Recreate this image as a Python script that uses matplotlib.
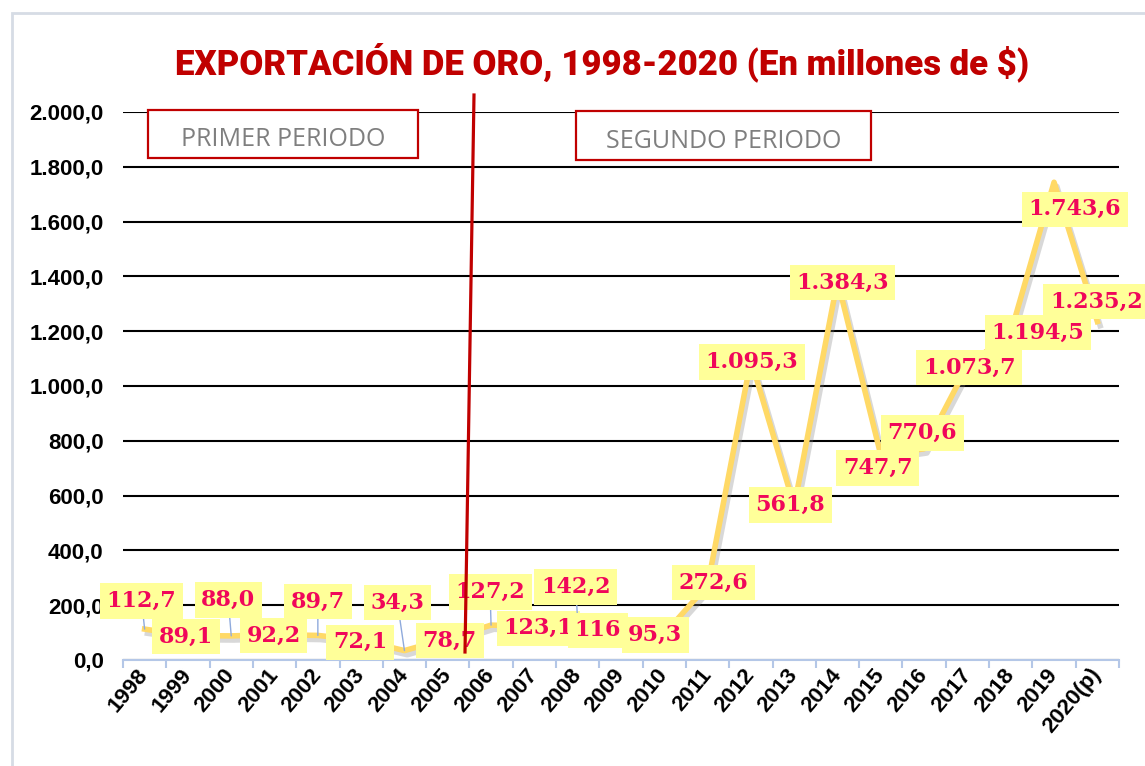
import matplotlib.pyplot as plt
import matplotlib.patheffects as pe
from matplotlib.patches import Rectangle
from matplotlib.lines import Line2D
from matplotlib.ticker import FuncFormatter, FixedLocator

# Datos: exportación de oro (millones de $)
anios = ["1998", "1999", "2000", "2001", "2002", "2003", "2004", "2005",
         "2006", "2007", "2008", "2009", "2010", "2011", "2012", "2013",
         "2014", "2015", "2016", "2017", "2018", "2019", "2020(p)"]
valores = [112.7, 89.1, 88.0, 92.2, 89.7, 72.1, 34.3, 78.7, 127.2, 123.1,
           142.2, 116.0, 95.3, 272.6, 1095.3, 561.8, 1384.3, 747.7, 770.6,
           1073.7, 1194.5, 1743.6, 1235.2]
etiquetas = ["112,7", "89,1", "88,0", "92,2", "89,7", "72,1", "34,3", "78,7",
             "127,2", "123,1", "142,2", "116", "95,3", "272,6", "1.095,3",
             "561,8", "1.384,3", "747,7", "770,6", "1.073,7", "1.194,5",
             "1.743,6", "1.235,2"]

# desplazamiento de cada etiqueta respecto al punto (pixeles)
desp = [(-3, 28), (-2, -1), (-3, 36), (-1, -1), (0, 34), (-1, -2), (-7, 48),
        (2, -2), (-1, 33), (4, -2), (-2, 34), (-23, -2), (-9, -1), (6, 3),
        (1, -2), (-4, 1), (5, -2), (-3, -13), (-2, 16), (2, -2), (27, 0),
        (21, -27), (-1, 20)]

fig = plt.figure(figsize=(11.45, 7.66), dpi=100)
ax = fig.add_axes([0.1074, 0.1384, 0.8699, 0.7154])

x = list(range(len(anios)))
ax.plot(x, valores, color="#FFD966", lw=4, solid_joinstyle="round", zorder=3,
        path_effects=[pe.SimpleLineShadow(offset=(2, -3), shadow_color="gray", alpha=0.3),
                      pe.Normal()])

for i, v in enumerate(valores):
    dx, dy = desp[i]
    flecha = None
    if abs(dy) > 20 and i < 13:
        flecha = dict(arrowstyle="-", color="#8FAADC", lw=1, shrinkA=0, shrinkB=0)
    ax.annotate(etiquetas[i], xy=(i, v), xytext=(dx, dy), textcoords="offset pixels",
                ha="center", va="center", fontsize=16, fontweight="bold",
                family="DejaVu Serif", color="#F0075A", zorder=5,
                bbox=dict(boxstyle="square,pad=0.3", fc="#FFFF99", ec="none"),
                arrowprops=flecha, annotation_clip=False)

ax.set_xlim(-0.5, len(anios) - 0.5)
ax.set_ylim(0, 2000)
ax.yaxis.set_major_locator(FixedLocator(range(0, 2001, 200)))
ax.yaxis.set_major_formatter(FuncFormatter(
    lambda v, p: f"{v:,.1f}".replace(",", "X").replace(".", ",").replace("X", ".")))
ax.grid(axis="y", color="black", lw=1.5, zorder=1)
ax.set_axisbelow(True)

ax.set_xticks(x)
ax.set_xticklabels(anios, rotation=50, ha="right", va="center", rotation_mode="anchor",
                   fontsize=16, fontweight="bold", family="Liberation Sans")
ax.set_xticks([k - 0.5 for k in range(len(anios) + 1)], minor=True)
ax.tick_params(axis="x", which="major", length=0, pad=8)
ax.tick_params(axis="x", which="minor", length=6, width=1.5, color="#B4C7E7", direction="out")
ax.tick_params(axis="y", length=0, pad=14, labelsize=16)
for lab in ax.get_yticklabels():
    lab.set_fontweight("bold")
    lab.set_family("Liberation Sans")

for s in ["top", "right", "left"]:
    ax.spines[s].set_visible(False)
ax.spines["bottom"].set_color("#B4C7E7")
ax.spines["bottom"].set_linewidth(1.5)

# marco exterior
fig.add_artist(Rectangle((12 / 1145, -0.1), 1.2, 1.1 - 13 / 766, transform=fig.transFigure,
                         fill=False, ec="#D6DCE5", lw=2, zorder=0))

# titulo
fig.text(0.526, 1 - 62 / 766, "EXPORTACIÓN DE ORO, 1998-2020 (En millones de $)",
         ha="center", va="center", fontsize=25, fontweight="heavy",
         family="Roboto", color="#C00000")

# cajas de periodo
for x0, y0, x1, y1, txt in [(148, 110, 418, 158, "PRIMER PERIODO"),
                            (576, 111, 871, 160, "SEGUNDO PERIODO")]:
    fig.add_artist(Rectangle((x0 / 1145, 1 - y1 / 766), (x1 - x0) / 1145, (y1 - y0) / 766,
                             transform=fig.transFigure, fc="white", ec="#C00000", lw=1.6, zorder=4))
    fig.text((x0 + x1) / 2 / 1145, 1 - ((y0 + y1) / 2 + 6) / 766, txt, ha="center", va="center",
             fontsize=18, family="Open Sans", color="#7F7F7F", zorder=5)

# linea divisoria
fig.add_artist(Line2D([474 / 1145, 465 / 1145], [1 - 95 / 766, 1 - 652 / 766],
                      transform=fig.transFigure, color="#C00000", lw=2.3, zorder=6))

plt.savefig("out.png", dpi=100)
